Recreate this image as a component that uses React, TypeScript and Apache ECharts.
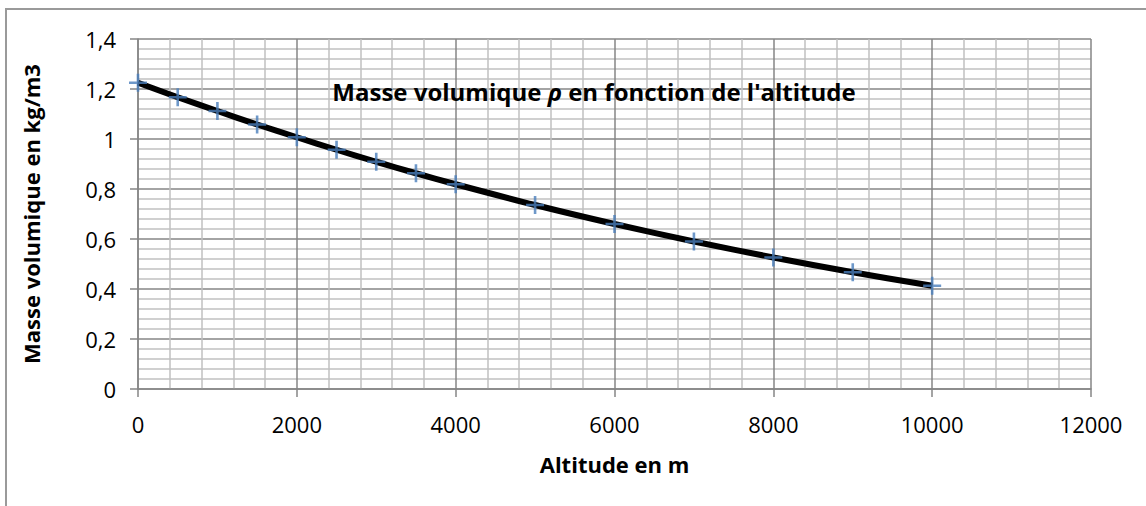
import React, { useEffect, useRef } from "react";
import * as echarts from "echarts";

const altitudes = [0, 500, 1000, 1500, 2000, 2500, 3000, 3500, 4000, 5000, 6000, 7000, 8000, 9000, 10000];
const densities = [1.225, 1.167, 1.112, 1.058, 1.007, 0.957, 0.909, 0.863, 0.819, 0.736, 0.66, 0.59, 0.526, 0.467, 0.413];

const xName = "Altitude en m";
const yName = "Masse volumique en kg/m3";

const FONT = "'Open Sans', 'DejaVu Sans', sans-serif";

export default function App() {
  const ref = useRef<HTMLDivElement>(null);
  useEffect(() => {
    if (!ref.current) return;
    const chart = echarts.init(ref.current, null, { renderer: "svg" });
    const pts = altitudes.map((a, i) => [a, densities[i]]);
    chart.setOption({
      animation: false,
      backgroundColor: "#ffffff",
      grid: { left: 138, right: 55, top: 39, bottom: 117, containLabel: false },
      graphic: [
        {
          type: "rect",
          z: -10,
          shape: { x: 6, y: 9, width: 1300, height: 700 },
          style: { fill: "none", stroke: "#9a9a9a", lineWidth: 2 },
          silent: true,
        },
      ],
      title: {
        text: "Masse volumique {i|ρ} en fonction de l'altitude",
        left: 589,
        top: 74,
        textAlign: "center",
        textStyle: {
          fontFamily: FONT,
          fontWeight: "bold",
          fontSize: 24,
          color: "#000",
          rich: {
            i: { fontFamily: FONT, fontWeight: "bold", fontStyle: "italic", fontSize: 24, color: "#000" },
          },
        },
      },
      xAxis: {
        type: "value",
        min: 0,
        max: 12000,
        interval: 2000,
        name: xName,
        nameLocation: "middle",
        nameGap: 64,
        nameTextStyle: { fontFamily: FONT, fontWeight: "bold", fontSize: 22, color: "#000" },
        axisLine: { show: true, onZero: false, lineStyle: { color: "#868686", width: 1.5 } },
        axisTick: { show: true, length: 8, lineStyle: { color: "#868686", width: 1.5 } },
        axisLabel: {
          fontFamily: FONT,
          fontSize: 22,
          color: "#000",
          margin: 24,
          formatter: (v: number) => String(v),
        },
        splitLine: { show: true, lineStyle: { color: "#868686", width: 1.5 } },
        minorTick: { show: false, splitNumber: 5 },
        minorSplitLine: { show: true, lineStyle: { color: "#c0c0c0", width: 1.5 } },
      },
      yAxis: {
        type: "value",
        min: 0,
        max: 1.4,
        interval: 0.2,
        name: yName,
        nameLocation: "middle",
        nameGap: 96,
        nameTextStyle: { fontFamily: FONT, fontWeight: "bold", fontSize: 22, color: "#000" },
        axisLine: { show: true, lineStyle: { color: "#868686", width: 1.5 } },
        axisTick: { show: true, length: 8, lineStyle: { color: "#868686", width: 1.5 } },
        axisLabel: {
          fontFamily: FONT,
          fontSize: 22,
          color: "#000",
          margin: 22,
          formatter: (v: number) => String(Math.round(v * 10) / 10).replace(".", ","),
        },
        splitLine: { show: true, lineStyle: { color: "#868686", width: 1.5 } },
        minorTick: { show: false, splitNumber: 5 },
        minorSplitLine: { show: true, lineStyle: { color: "#c0c0c0", width: 1.5 } },
      },
      series: [
        {
          type: "line",
          data: pts,
          smooth: 0.3,
          showSymbol: false,
          lineStyle: { color: "#000", width: 6 },
          z: 3,
        },
        {
          type: "scatter",
          data: pts,
          symbol: "path://M-9,-1.3 L9,-1.3 L9,1.3 L-9,1.3 Z M-1.3,-9 L1.3,-9 L1.3,9 L-1.3,9 Z",
          symbolSize: 18,
          itemStyle: { color: "#4a7ebb" },
          z: 4,
        },
      ],
    });
    return () => chart.dispose();
  }, []);
  return (
    <div
      ref={ref}
      style={{ position: "fixed", left: 0, top: 0, width: 1146, height: 506, background: "#fff" }}
    />
  );
}
